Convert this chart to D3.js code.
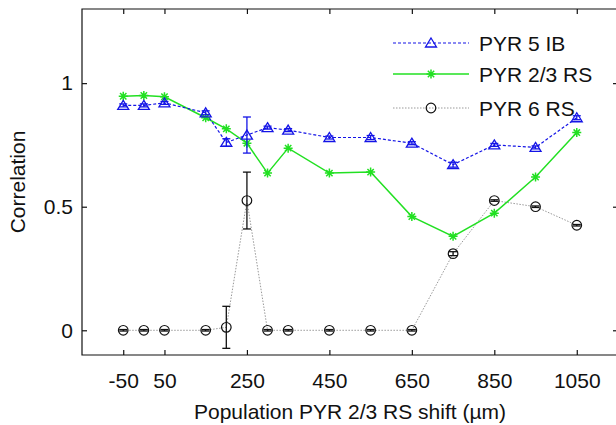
<!DOCTYPE html>
<html><head><meta charset="utf-8">
<script src="https://cdn.jsdelivr.net/npm/d3@7"></script>
<style>body{margin:0;background:#fff}svg{display:block}text{font-family:"Liberation Sans",Arial,Helvetica,sans-serif;fill:#111}</style>
</head><body><svg id="c" width="616" height="425"></svg>
<script>
const shifts = [-50, 0, 50, 150, 200, 250, 300, 350, 450, 550, 650, 750, 850, 950, 1050];
const pyr5IB   = [0.91, 0.91, 0.92, 0.88, 0.76, 0.79, 0.82, 0.81, 0.78, 0.78, 0.757, 0.67, 0.75, 0.74, 0.86];
const pyr5IBErr = [0.006, 0.006, 0.006, 0.008, 0.015, 0.073, 0.006, 0.006, 0.006, 0.008, 0.006, 0.01, 0.006, 0.006, 0.008];
const pyr23RS  = [0.947, 0.95, 0.945, 0.86, 0.815, 0.757, 0.636, 0.737, 0.636, 0.64, 0.46, 0.38, 0.474, 0.62, 0.80];
const pyr6RS   = [0, 0, 0, 0, 0.012, 0.525, 0, 0, 0, 0, 0, 0.31, 0.525, 0.50, 0.425];
const pyr6RSErr = [0.003, 0.003, 0.003, 0.003, 0.085, 0.115, 0.003, 0.003, 0.003, 0.003, 0.003, 0.008, 0.003, 0.003, 0.003];
const xTicks = [-50, 50, 250, 450, 650, 850, 1050];
const yTicks = [0, 0.5, 1];
const yTickLabels = ["0", "0.5", "1"];
const seriesNames = ["PYR 5 IB", "PYR 2/3 RS", "PYR 6 RS"];

const svg = d3.select("#c");
const x = d3.scaleLinear().domain([-150, 1150]).range([82, 618]);
const y = d3.scaleLinear().domain([-0.1, 1.3]).range([355, 9]);
const L = 82, R = 618, T = 9, B = 355;
const FS = 21;

const blue = "#1414e6", green = "#22e022", gray = "#999";

const line = (vals) => d3.line().x((d,i)=>x(shifts[i])).y(d=>y(d))(vals);
svg.append("path").attr("d", line(pyr6RS)).attr("fill","none").attr("stroke",gray).attr("stroke-width",1).attr("stroke-dasharray","1.5,1.5");
svg.append("path").attr("d", line(pyr23RS)).attr("fill","none").attr("stroke",green).attr("stroke-width",1.5);
svg.append("path").attr("d", line(pyr5IB)).attr("fill","none").attr("stroke",blue).attr("stroke-width",1.2).attr("stroke-dasharray","3,2");

function errBars(vals, errs, color, cap) {
  const g = svg.append("g").attr("stroke", color).attr("stroke-width", 1.3);
  vals.forEach((v,i)=>{
    const cx = x(shifts[i]), y1 = y(v+errs[i]), y2 = y(v-errs[i]);
    g.append("line").attr("x1",cx).attr("x2",cx).attr("y1",y1).attr("y2",y2);
    g.append("line").attr("x1",cx-cap).attr("x2",cx+cap).attr("y1",y1).attr("y2",y1);
    g.append("line").attr("x1",cx-cap).attr("x2",cx+cap).attr("y1",y2).attr("y2",y2);
  });
}

function triangle(g, cx, cy) {
  g.append("path").attr("d", `M${cx},${cy-5}L${cx+5.5},${cy+4}L${cx-5.5},${cy+4}Z`)
   .attr("fill","none").attr("stroke",blue).attr("stroke-width",1.3);
}
function star(g, cx, cy) {
  const r = 4.5, d = r*0.707;
  g.append("path").attr("d",
    `M${cx-r},${cy}L${cx+r},${cy}M${cx},${cy-r}L${cx},${cy+r}M${cx-d},${cy-d}L${cx+d},${cy+d}M${cx-d},${cy+d}L${cx+d},${cy-d}`)
   .attr("stroke",green).attr("stroke-width",1.5).attr("fill","none");
}
function circle(g, cx, cy) {
  g.append("circle").attr("cx",cx).attr("cy",cy).attr("r",4.8).attr("fill","none").attr("stroke","#111").attr("stroke-width",1.2);
}

errBars(pyr6RS, pyr6RSErr, "#111", 4);
const gc = svg.append("g");
pyr6RS.forEach((v,i)=>circle(gc, x(shifts[i]), y(v)));
const gs = svg.append("g");
pyr23RS.forEach((v,i)=>star(gs, x(shifts[i]), y(v)));
errBars(pyr5IB, pyr5IBErr, blue, 4);
const gt = svg.append("g");
pyr5IB.forEach((v,i)=>triangle(gt, x(shifts[i]), y(v)));

svg.append("path").attr("d",`M${L},${T}L${R},${T}L${R},${B}L${L},${B}Z`).attr("fill","none").attr("stroke","#111").attr("stroke-width",1.2);

const tl = 5;
const xb = svg.append("g").attr("transform",`translate(0,${B})`).call(d3.axisBottom(x).tickValues(xTicks).tickSizeInner(-tl).tickSizeOuter(0).tickPadding(18).tickFormat(d=>String(d)));
const xt = svg.append("g").attr("transform",`translate(0,${T})`).call(d3.axisTop(x).tickValues(xTicks).tickSizeInner(-tl).tickSizeOuter(0).tickFormat(""));
const yl = svg.append("g").attr("transform",`translate(${L},0)`).call(d3.axisLeft(y).tickValues(yTicks).tickSizeInner(-tl).tickSizeOuter(0).tickPadding(9).tickFormat((d,i)=>yTickLabels[i]));
const yr = svg.append("g").attr("transform",`translate(${R},0)`).call(d3.axisRight(y).tickValues(yTicks).tickSizeInner(-tl).tickSizeOuter(0).tickFormat(""));
[xb,xt,yl,yr].forEach(a=>{
  a.select(".domain").remove();
  a.selectAll(".tick line").attr("stroke","#111").attr("stroke-width",1.2);
  a.selectAll("text").attr("font-size",FS).attr("fill","#111").attr("font-family",'"Liberation Sans",Arial,sans-serif');
});

svg.append("text").attr("x",350).attr("y",419).attr("text-anchor","middle").attr("font-size",FS).text("Population PYR 2/3 RS shift (µm)");
svg.append("text").attr("transform","translate(25,182) rotate(-90)").attr("text-anchor","middle").attr("font-size",FS).text("Correlation");

const lg = svg.append("g");
const rows = [43, 74, 108];
const lx1 = 393, lx2 = 469, lmx = 431;
lg.append("line").attr("x1",lx1).attr("x2",lx2).attr("y1",rows[0]).attr("y2",rows[0]).attr("stroke",blue).attr("stroke-width",1.2).attr("stroke-dasharray","3,2");
triangle(lg, lmx, rows[0]);
lg.append("line").attr("x1",lx1).attr("x2",lx2).attr("y1",rows[1]).attr("y2",rows[1]).attr("stroke",green).attr("stroke-width",1.5);
star(lg, lmx, rows[1]);
lg.append("line").attr("x1",lx1).attr("x2",lx2).attr("y1",rows[2]).attr("y2",rows[2]).attr("stroke",gray).attr("stroke-width",1).attr("stroke-dasharray","1.5,1.5");
circle(lg, lmx, rows[2]);
seriesNames.forEach((n,i)=>lg.append("text").attr("x",479).attr("y",rows[i]+7.5).attr("font-size",FS).text(n));
</script></body></html>
